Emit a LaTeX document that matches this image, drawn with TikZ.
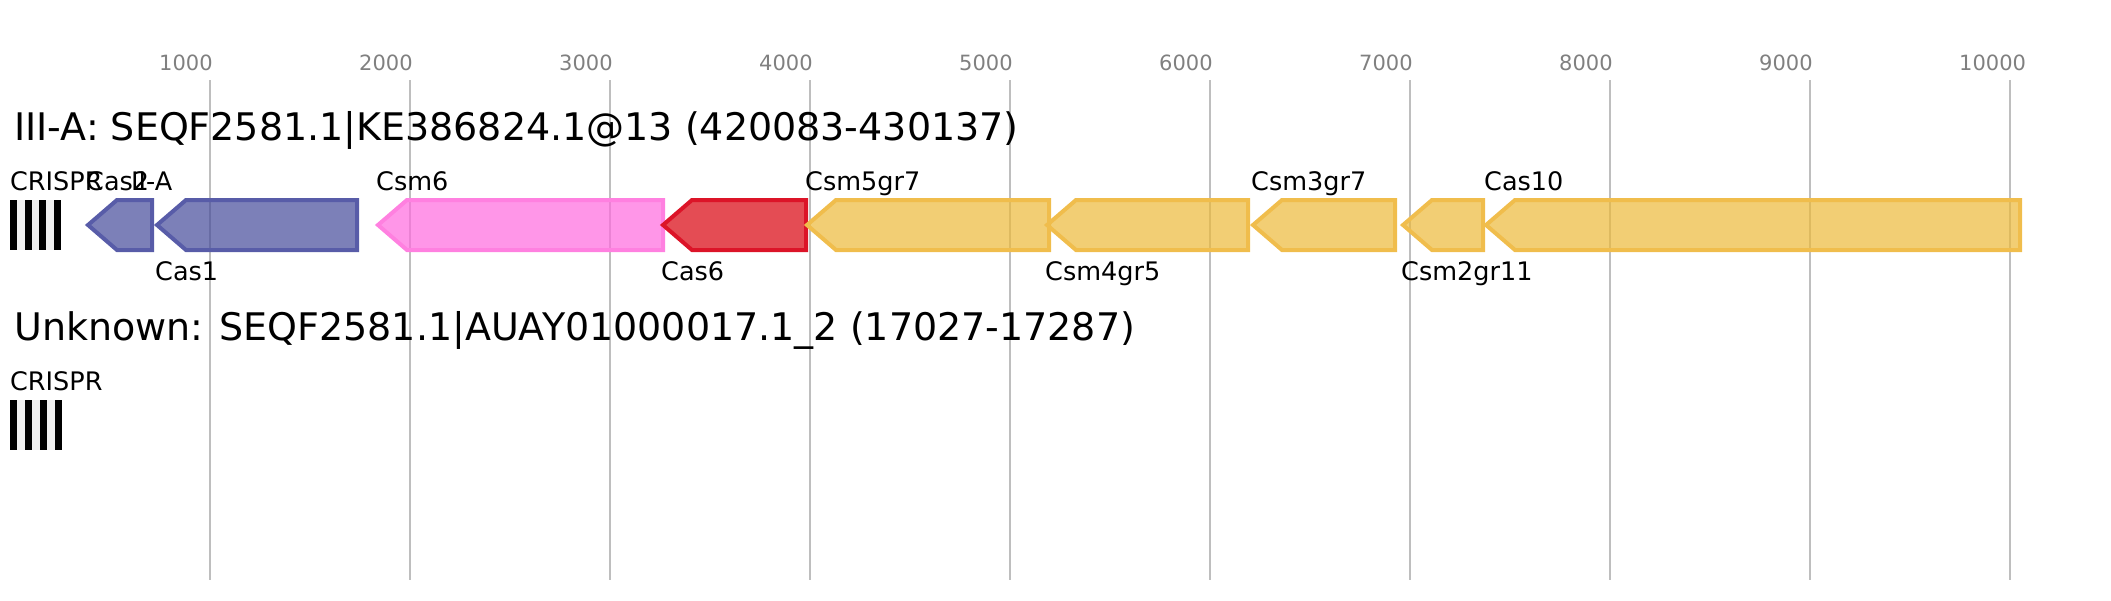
\documentclass[tikz,border=0pt]{standalone}
\usepackage{fontspec}
\setmainfont{DejaVu Sans}

\definecolor{gridgray}{RGB}{190,190,190}
\definecolor{tickgray}{RGB}{128,128,128}
\definecolor{stripegray}{RGB}{240,240,240}
\definecolor{casblue}{RGB}{68,74,154}
\definecolor{casblueline}{RGB}{88,92,168}
\definecolor{caspink}{RGB}{255,105,222}
\definecolor{caspinkline}{RGB}{255,128,224}
\definecolor{casred}{RGB}{216,0,12}
\definecolor{casredline}{RGB}{220,20,40}
\definecolor{casyellow}{RGB}{236,185,57}
\definecolor{casyellowline}{RGB}{240,189,76}

\tikzset{
    gene/.style={draw=#1line, fill=#1, fill opacity=0.7, line width=4, line join=miter},
    genelabel/.style={anchor=base west, inner sep=0pt, font=\fontsize{25.5}{28}\selectfont},
    ticklabel/.style={anchor=base west, inner sep=0pt, text=tickgray, font=\fontsize{21}{24}\selectfont},
    rowtitle/.style={anchor=base west, inner sep=0pt, font=\fontsize{38}{42}\selectfont},
}

\begin{document}
\begin{tikzpicture}[x=1pt, y=-1pt]
    % Fix the page to the reference size, one unit is one pixel
    \useasboundingbox (0,0) rectangle (2111,600);

    % Axis: grid lines every 1000 bp and their labels
    \foreach \bp [count=\i] in {1000,2000,...,10000} {
        \pgfmathsetmacro\xpos{10 + 0.2*\bp}
        \draw[gridgray, line width=2] (\xpos, 80) -- (\xpos, 580);
        \node[ticklabel] (tick\i) at (\xpos - 51, 70) {\bp};
    }

    % First row title
    \node[rowtitle] (titleA) at (14, 140) {III-A: SEQF2581.1|KE386824.1@13 (420083-430137)};

    % CRISPR array of the first row
    \foreach \s in {0,...,6} {
        \pgfmathsetmacro\sx{10 + \s*51/7}
        \ifodd\s
            \fill[stripegray] (\sx, 200) rectangle (\sx + 51/7, 250);
        \else
            \fill[black] (\sx, 200) rectangle (\sx + 51/7, 250);
        \fi
    }
    \node[genelabel] (crisprA) at (10, 190) {CRISPR};
    \node[genelabel] (crisprAtype) at (131, 190) {II-A};

    % Cas genes, all on the reverse strand: tip / right end / colour / name / label baseline
    \foreach \tip/\rgt/\col/\name/\ly [count=\i] in {
        88/152/casblue/Cas2/190,
        157/357/casblue/Cas1/280,
        378/663/caspink/Csm6/190,
        663/806/casred/Cas6/280,
        807/1049/casyellow/Csm5gr7/190,
        1047/1248/casyellow/Csm4gr5/280,
        1253/1395/casyellow/Csm3gr7/190,
        1403/1483/casyellow/Csm2gr11/280,
        1486/2020/casyellow/Cas10/190} {
        \draw[gene=\col] (\tip, 225) -- (\tip + 29, 200) -- (\rgt, 200)
            -- (\rgt, 250) -- (\tip + 29, 250) -- cycle;
        \node[genelabel] (gene\i) at (\tip - 2, \ly) {\name};
    }

    % Second row title and its lone CRISPR array
    \node[rowtitle] (titleB) at (14, 340) {Unknown: SEQF2581.1|AUAY01000017.1\_2 (17027-17287)};

    \foreach \s in {0,...,6} {
        \pgfmathsetmacro\sx{10 + \s*52/7}
        \ifodd\s
            \fill[stripegray] (\sx, 400) rectangle (\sx + 52/7, 450);
        \else
            \fill[black] (\sx, 400) rectangle (\sx + 52/7, 450);
        \fi
    }
    \node[genelabel] (crisprB) at (10, 390) {CRISPR};

\end{tikzpicture}
\end{document}
